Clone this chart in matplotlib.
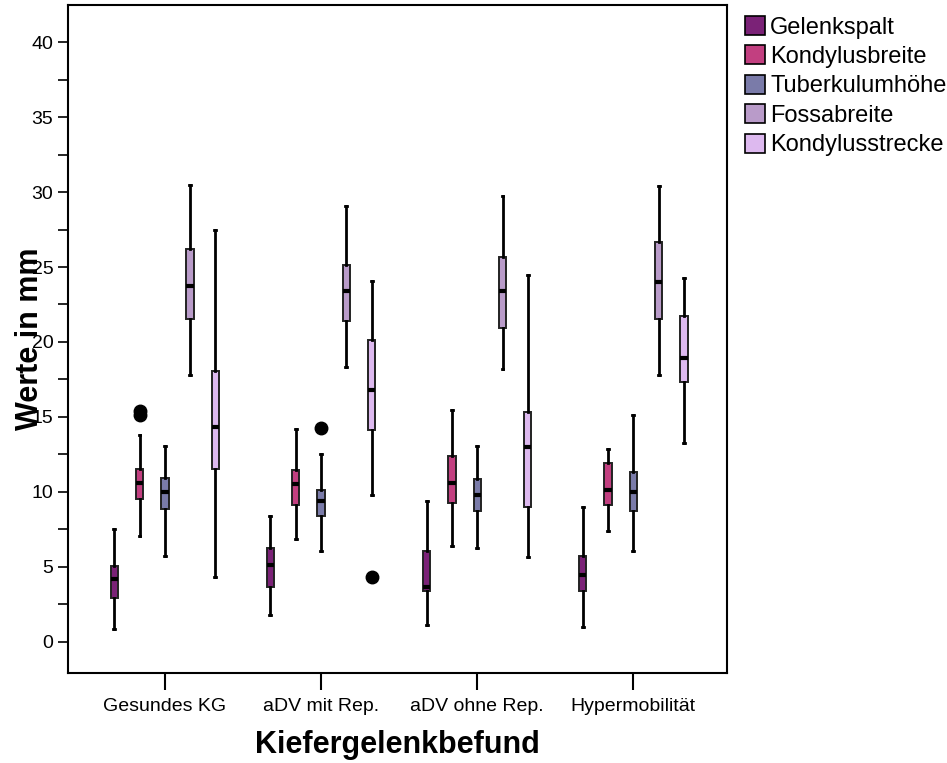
import matplotlib.pyplot as plt
import matplotlib.patches as mpatches
from matplotlib.ticker import MultipleLocator, FixedLocator

plt.rcParams['font.family'] = ['Liberation Sans', 'DejaVu Sans']

groups = ["Gesundes KG", "aDV mit Rep.", "aDV ohne Rep.", "Hypermobilität"]
series = ["Gelenkspalt", "Kondylusbreite", "Tuberkulumhöhe", "Fossabreite", "Kondylusstrecke"]
colors = ["#7b2277", "#c23f80", "#7a7ba9", "#b99bc9", "#ddb9ef"]

# per series: one row per group -> (whislo, q1, med, q3, whishi)
gelenkspalt = [(0.85, 2.92, 4.14, 5.03, 7.48),
               (1.80, 3.67, 5.10, 6.25, 8.37),
               (1.13, 3.36, 3.63, 6.03, 9.35),
               (1.00, 3.36, 4.41, 5.74, 9.01)]
kondylusbreite = [(7.03, 9.53, 10.60, 11.53, 13.80),
                  (6.81, 9.10, 10.53, 11.46, 14.17),
                  (6.39, 9.26, 10.59, 12.37, 15.44),
                  (7.37, 9.12, 10.12, 11.90, 12.82)]
tuberkulumhoehe = [(5.74, 8.86, 10.00, 10.90, 13.08),
                   (6.03, 8.37, 9.35, 10.12, 12.55),
                   (6.21, 8.68, 9.75, 10.86, 13.06),
                   (6.05, 8.72, 10.01, 11.30, 15.09)]
fossabreite = [(17.78, 21.54, 23.72, 26.19, 30.50),
               (18.34, 21.38, 23.43, 25.15, 29.10),
               (18.22, 20.94, 23.41, 25.70, 29.77),
               (17.78, 21.56, 24.01, 26.66, 30.44)]
kondylusstrecke = [(4.29, 11.50, 14.35, 18.07, 27.48),
                   (9.77, 14.13, 16.76, 20.14, 24.05),
                   (5.63, 8.99, 13.00, 15.29, 24.45),
                   (13.26, 17.34, 18.91, 21.74, 24.28)]
values = [gelenkspalt, kondylusbreite, tuberkulumhoehe, fossabreite, kondylusstrecke]

# outliers: (series index, group index) -> values
outliers = {(1, 0): [15.1, 15.4],
            (2, 1): [14.26],
            (4, 1): [4.29]}

fig = plt.figure(figsize=(9.47, 7.63), dpi=100)
ax = fig.add_axes([0.0718, 0.118, 0.696, 0.8756])

step = 0.162
for si, name in enumerate(series):
    stats = []
    for gi in range(len(groups)):
        lo, q1, med, q3, hi = values[si][gi]
        stats.append(dict(whislo=lo, q1=q1, med=med, q3=q3, whishi=hi,
                          fliers=outliers.get((si, gi), [])))
    pos = [gi + (si - 2) * step for gi in range(len(groups))]
    ax.bxp(stats, positions=pos, widths=0.047, capwidths=0.012,
           patch_artist=True, manage_ticks=False,
           boxprops=dict(facecolor=colors[si], edgecolor="#222222", linewidth=1.4),
           medianprops=dict(color="black", linewidth=3),
           whiskerprops=dict(color="black", linewidth=2),
           capprops=dict(color="black", linewidth=2),
           flierprops=dict(marker="o", markerfacecolor="black",
                           markeredgecolor="black", markersize=9))

ax.set_xlim(-0.62, 3.60)
ax.set_ylim(-2.1, 42.5)
ax.set_xticks(range(len(groups)), labels=groups)
ax.yaxis.set_major_locator(MultipleLocator(5))
ax.yaxis.set_minor_locator(FixedLocator([2.5 + 5 * i for i in range(8)]))
ax.tick_params(axis="x", length=12, width=1.5, labelsize=14, pad=6)
ax.tick_params(axis="y", which="major", length=7, width=1.2, labelsize=14)
ax.tick_params(axis="y", which="minor", length=7, width=1.2)
for sp in ax.spines.values():
    sp.set_linewidth(1.5)

# the y label sits over the tick labels, as in the original
ax.set_ylabel("Werte in mm", fontsize=22, fontweight="bold")
ax.yaxis.set_label_coords(-0.035, 0.5)
ax.set_xlabel("Kiefergelenkbefund", fontsize=22, fontweight="bold")
ax.xaxis.set_label_coords(0.5, -0.085)

handles = [mpatches.Patch(facecolor=c, edgecolor="black", linewidth=1.2, label=n)
           for c, n in zip(colors, series)]
fig.legend(handles=handles, loc="upper left", bbox_to_anchor=(0.787, 0.979),
           frameon=False, fontsize=17, handlelength=0.85, handleheight=0.85,
           handletextpad=0.2, labelspacing=0.29, borderaxespad=0, borderpad=0)

fig.savefig("out.png", dpi=100)
